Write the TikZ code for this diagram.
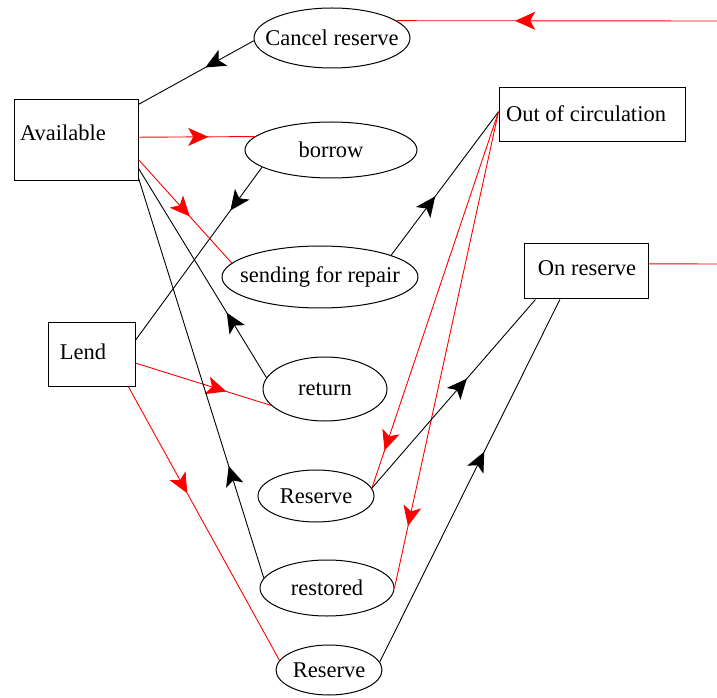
\documentclass[tikz,border=0pt]{standalone}
\usepackage{fontspec}
\setmainfont{Liberation Serif}
\usetikzlibrary{shapes.geometric,decorations.markings,arrows.meta}

\tikzset{
  lbl/.style={font=\fontsize{22.5}{26}\selectfont, inner sep=0pt},
  box/.style={draw, line width=1pt, inner sep=0pt},
  oval/.style={draw, ellipse, line width=1pt, inner sep=0pt},
  link/.style={line width=0.9pt},
  redlink/.style={link, red},
  midarrow/.style={postaction={decorate, decoration={markings,
      mark=at position #1 with {\arrow{Stealth[length=20pt,width=18pt,inset=5pt]}}}}}
}

\begin{document}
\begin{tikzpicture}[x=1pt,y=1pt]
  \fill[white] (0,0) rectangle (717,697);
  \useasboundingbox (0,0) rectangle (717,697);

  % state boxes
  \node[box, minimum width=124pt, minimum height=81pt] (avail) at (76,556.5) {};
  \node[lbl] (availtext) at (63,564) {Available};
  \node[box, minimum width=87pt, minimum height=63pt] (lend) at (91.5,342.5) {};
  \node[lbl] (lendtext) at (83,345) {Lend};
  \node[box, minimum width=186pt, minimum height=54pt] (out) at (592,582) {};
  \node[lbl] (outtext) at (586,583) {Out of circulation};
  \node[box, minimum width=124pt, minimum height=55pt] (onres) at (586,425.5) {};
  \node[lbl] (onrestext) at (587,429) {On reserve};

  % actions
  \node[oval, minimum width=156pt, minimum height=60pt, label={[lbl]center:Cancel reserve}] (cancel) at (332,659) {};
  \node[oval, minimum width=172pt, minimum height=56pt, label={[lbl]center:borrow}] (borrow) at (331,547) {};
  \node[oval, minimum width=196pt, minimum height=62pt, label={[lbl]center:sending for repair}] (sending) at (320,420) {};
  \node[oval, minimum width=124pt, minimum height=64pt, label={[lbl]center:return}] (return) at (325,308) {};
  \node[oval, minimum width=116pt, minimum height=52pt, label={[lbl]center:Reserve}] (reserveA) at (316,201) {};
  \node[oval, minimum width=134pt, minimum height=56pt, label={[lbl]center:restored}] (restored) at (327,109) {};
  \node[oval, minimum width=106pt, minimum height=50pt, label={[lbl]center:Reserve}] (reserveB) at (329,27) {};

  % loose ends at the right border
  \coordinate (cancelin) at (717,676);
  \coordinate (onresout) at (717,433);

  % transitions
  \draw[redlink, midarrow=0.63] (cancelin) -- (cancel.15);
  \draw[link, midarrow=0.42] (cancel.182) -- (avail.30);
  \draw[redlink, midarrow=0.6] (avail.3) -- (borrow.170);
  \draw[link, midarrow=0.25] (borrow.194) -- (lend.18);
  \draw[redlink, midarrow=0.55] (avail.-17) -- (sending.171);
  \draw[link, midarrow=0.41] (sending.17) -- (out.178);
  \draw[link, midarrow=0.31] (return.169) -- (avail.-24);
  \draw[redlink, midarrow=0.67] (lend.-11) -- (return.197);
  \draw[link, midarrow=0.28] (restored.171) -- (avail.-31);
  \draw[redlink, midarrow=0.39] (lend.-41) -- (reserveB.169);
  \draw[redlink, midarrow=0.9] (out.178) -- (reserveA.8.5);
  \draw[redlink, midarrow=0.87] (out.178) -- (restored.east);
  \draw[link, midarrow=0.58] (reserveA.8) -- (onres.209);
  \draw[link, midarrow=0.58] (reserveB.9) -- (onres.227);
  \draw[redlink] (onres.7) -- (onresout);
\end{tikzpicture}
\end{document}
